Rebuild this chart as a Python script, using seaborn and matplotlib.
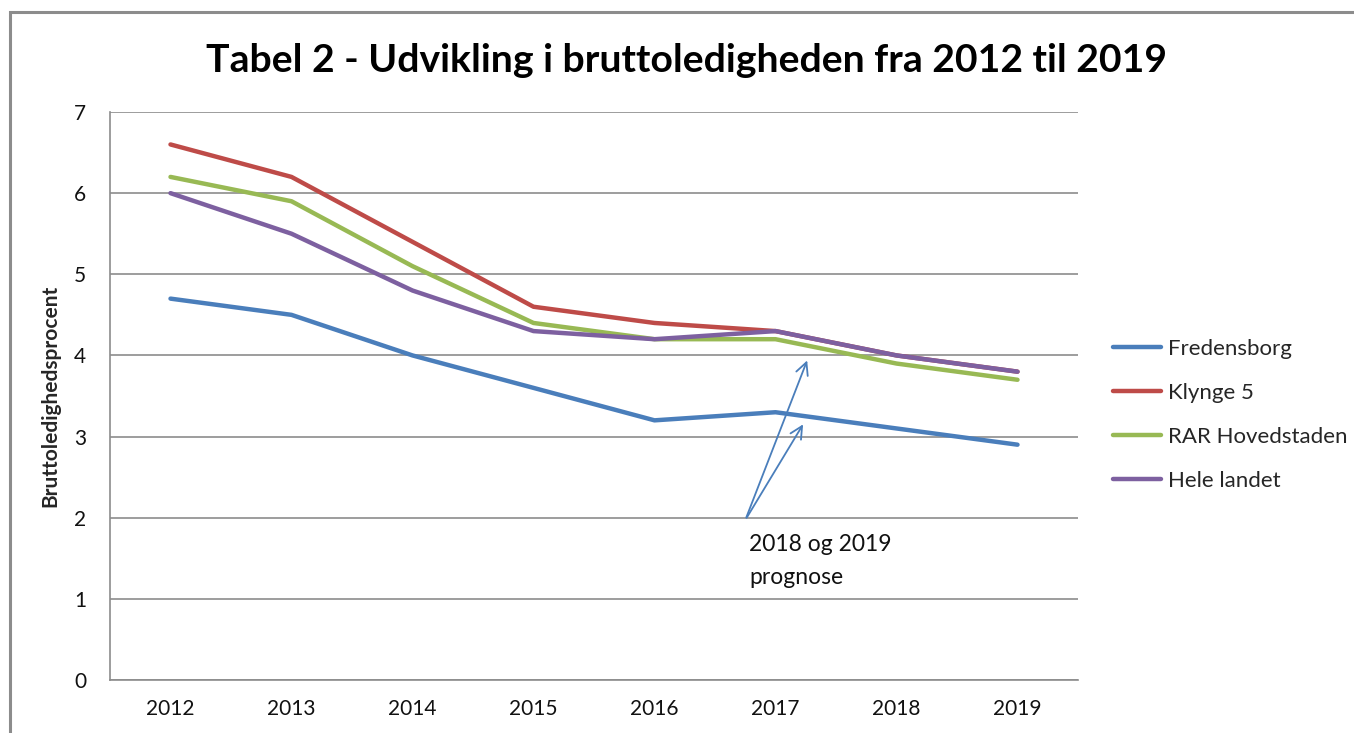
import numpy as np
import pandas as pd
import seaborn as sns
import matplotlib.pyplot as plt
from matplotlib.patches import Rectangle

# data
years = [2012, 2013, 2014, 2015, 2016, 2017, 2018, 2019]
fredensborg = [4.7, 4.5, 4.0, 3.6, 3.2, 3.3, 3.1, 2.9]
klynge5 = [6.6, 6.2, 5.4, 4.6, 4.4, 4.3, 4.0, 3.8]
rar_hovedstaden = [6.2, 5.9, 5.1, 4.4, 4.2, 4.2, 3.9, 3.7]
hele_landet = [6.0, 5.5, 4.8, 4.3, 4.2, 4.3, 4.0, 3.8]
series_names = ["Fredensborg", "Klynge 5", "RAR Hovedstaden", "Hele landet"]
colors = ["#4A7EBB", "#BE4B48", "#98B954", "#7D60A0"]

df = pd.DataFrame({"year": years,
                   "Fredensborg": fredensborg,
                   "Klynge 5": klynge5,
                   "RAR Hovedstaden": rar_hovedstaden,
                   "Hele landet": hele_landet})
long = df.melt(id_vars="year", var_name="serie", value_name="pct")

sns.set_style("white")
plt.rcParams['font.family'] = ['Lato', 'DejaVu Sans']

fig = plt.figure(figsize=(13.54, 7.33), dpi=100)
ax = fig.add_axes([110/1354, 1-680/733, (1078-110)/1354, (680-112)/733])

sns.lineplot(data=long, x="year", y="pct", hue="serie", hue_order=series_names,
             palette=colors, linewidth=3.2, ax=ax)

ax.set_xlim(2011.5, 2019.5)
ax.set_ylim(0, 7)
ax.set_xticks(years)
ax.set_xticklabels([str(y) for y in years])
ax.set_yticks(range(0, 8))
ax.yaxis.grid(True, color="#8c8c8c", linewidth=1.2)
ax.set_axisbelow(True)
for s in ["top", "right"]:
    ax.spines[s].set_visible(False)
for s in ["left", "bottom"]:
    ax.spines[s].set_color("#8c8c8c")
    ax.spines[s].set_linewidth(1.2)
ax.tick_params(axis="both", length=0, labelsize=15, colors="#111111")
ax.tick_params(axis="y", pad=17)
ax.tick_params(axis="x", pad=14)
ax.set_xlabel("")
ax.set_ylabel("Bruttoledighedsprocent", fontsize=15, fontweight="bold", labelpad=10)

fig.text(0.507, 0.918, "Tabel 2 - Udvikling i bruttoledigheden fra 2012 til 2019",
         ha="center", va="center", fontsize=28.2, fontweight="bold", color="black")

# prognose arrows
for tip in [(2017.27, 3.97), (2017.24, 3.18)]:
    ax.annotate("", xy=tip, xytext=(2016.75, 1.97),
                arrowprops=dict(arrowstyle="->", color="#4A7EBB", lw=1.3,
                                mutation_scale=22))
ax.text(2016.78, 1.8, "2018 og 2019\nprognose", ha="left", va="top",
        fontsize=16.5, linespacing=1.7, color="#111111")

leg = ax.legend(loc="center left", bbox_to_anchor=(1.015, 0.467), frameon=False,
                fontsize=16, handlelength=2.2, handletextpad=0.3, labelspacing=1.08)
for line in leg.get_lines():
    line.set_linewidth(3.2)

fig.patches.append(Rectangle((10/1354, -0.1), 1.2, 1 - 12/733 + 0.1,
                             transform=fig.transFigure, fill=False,
                             edgecolor="#8c8c8c", linewidth=2.2))

fig.savefig("out.png", dpi=100)
